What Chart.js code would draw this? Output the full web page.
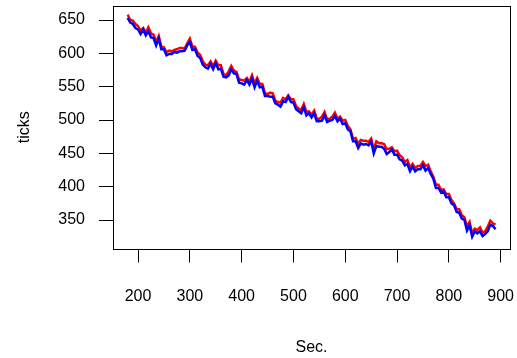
<!DOCTYPE html>
<html>
<head>
<meta charset="utf-8">
<script src="https://cdn.jsdelivr.net/npm/chart.js@4/dist/chart.umd.min.js"></script>
<style>
  body { margin: 0; background: #fff; }
</style>
</head>
<body>
<canvas id="plot" width="517" height="358"></canvas>
<script>
// seconds (x values)
const secs = [180,185,190,195,200,205,210,215,220,225,230,235,240,245,250,255,260,265,270,275,
  280,285,290,295,300,305,310,315,320,325,330,335,340,345,350,355,360,365,370,375,
  380,385,390,395,400,405,410,415,420,425,430,435,440,445,450,455,460,465,470,475,
  480,485,490,495,500,505,510,515,520,525,530,535,540,545,550,555,560,565,570,575,
  580,585,590,595,600,605,610,615,620,625,630,635,640,645,650,655,660,665,670,675,
  680,685,690,695,700,705,710,715,720,725,730,735,740,745,750,755,760,765,770,775,
  780,785,790,795,800,805,810,815,820,825,830,835,840,845,850,855,860,865,870,875,
  880,885,890];

const blueTicks = [653,646,644,638,636,629,636,627,633,624,623,612,622,606,606,597,599,599,602,601,
  603,603,604,612,617,605,606,596,593,583,579,577,584,576,585,576,577,565,564,567,
  576,570,569,556,555,553,560,553,562,549,559,549,550,536,536,535,535,525,523,520,
  528,527,535,527,526,516,513,510,519,507,510,504,510,498,498,499,507,497,499,500,
  506,498,502,494,495,486,483,468,468,458,465,463,464,462,468,450,461,460,460,457,
  449,452,456,448,448,441,439,432,434,423,430,423,426,426,432,424,428,419,412,398,
  398,391,393,384,384,375,372,362,361,352,350,334,342,325,333,330,333,326,329,333,
  343,341,336];

const redTicks = [658,650,649,644,641,634,638,631,639,630,628,617,626,610,609,602,
  604,603,605,606,608,608,607,615,622,610,610,601,598,588,583,582,
  588,581,589,582,582,569,567,573,581,574,572,561,560,559,563,557,
  567,555,563,554,554,540,539,541,540,529,527,526,533,531,537,531,
  531,521,517,515,524,512,513,508,514,502,502,505,512,501,502,505,
  511,502,505,499,500,491,486,472,473,464,470,469,469,467,472,456,
  468,465,465,464,456,457,459,453,454,447,444,437,440,429,434,428,
  431,431,437,431,433,423,415,403,403,395,396,389,389,380,375,366,
  366,357,354,340,347,330,337,335,339,331,333,340,349,345,343];

const xTicks = [200,300,400,500,600,700,800,900];
const yTicks = [350,400,450,500,550,600,650];

const font = { family: '"Liberation Sans", Arial, sans-serif', size: 16 };

// box around the plot region, like R's box()
const boxPlugin = {
  id: 'box',
  afterDraw(chart) {
    const a = chart.chartArea;
    const c = chart.ctx;
    c.save();
    c.strokeStyle = '#000';
    c.lineWidth = 1;
    c.strokeRect(Math.round(a.left) + 0.5, Math.round(a.top) + 0.5,
      Math.round(a.right - a.left), Math.round(a.bottom - a.top));
    c.restore();
  }
};

new Chart(document.getElementById('plot'), {
  type: 'line',
  data: {
    datasets: [
      {
        label: 'blue',
        data: secs.map((s, i) => ({ x: s, y: blueTicks[i] })),
        borderColor: '#0000ff',
        borderWidth: 2.5,
        pointRadius: 0,
        tension: 0
      },
      {
        label: 'red',
        data: secs.map((s, i) => ({ x: s, y: redTicks[i] })),
        borderColor: '#ff0000',
        borderWidth: 2.5,
        pointRadius: 0,
        tension: 0
      }
    ]
  },
  options: {
    responsive: false,
    animation: false,
    layout: { padding: { top: 6, right: 7, left: 0, bottom: 0 } },
    plugins: { legend: { display: false }, tooltip: { enabled: false } },
    scales: {
      x: {
        type: 'linear',
        min: 151.7,
        max: 918,
        afterBuildTicks: s => { s.ticks = xTicks.map(v => ({ value: v })); },
        afterFit: s => { s.height = 109.5; s.paddingLeft = 0; s.paddingRight = 0; },
        border: { display: false },
        grid: { drawOnChartArea: false, drawTicks: true, tickLength: 14, color: '#000' },
        ticks: { color: '#000', font: font, padding: 24, maxRotation: 0 },
        title: { display: true, text: 'Sec.', color: '#000', font: font, padding: { top: 0, bottom: 1 } }
      },
      y: {
        min: 307.25,
        max: 671,
        afterBuildTicks: s => { s.ticks = yTicks.map(v => ({ value: v })); },
        afterFit: s => { s.width = 113; s.paddingTop = 0; s.paddingBottom = 0; },
        border: { display: false },
        grid: { drawOnChartArea: false, drawTicks: true, tickLength: 14, color: '#000' },
        ticks: { color: '#000', font: font, padding: 14 },
        title: { display: true, text: 'ticks', color: '#000', font: font, padding: { top: 15, bottom: 0 } }
      }
    }
  },
  plugins: [boxPlugin]
});
</script>
</body>
</html>
